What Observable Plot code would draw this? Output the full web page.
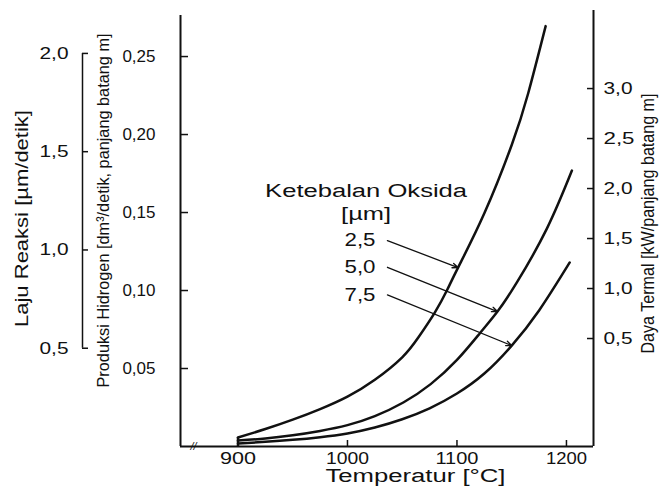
<!DOCTYPE html>
<html><head><meta charset="utf-8">
<script src="https://cdn.jsdelivr.net/npm/d3@7"></script>
<script src="https://cdn.jsdelivr.net/npm/@observablehq/plot@0.6"></script>
<style>body{margin:0;background:#fff}</style>
</head><body><div id="chart"></div>
<script>
// ---- data ----
const seriesNames = ["2,5", "5,0", "7,5"];
const temp25 = [900, 925, 950, 975, 1000, 1025, 1050, 1065, 1080, 1091, 1101, 1125, 1150, 1165, 1181];
const hyd25  = [0.0058, 0.0112, 0.0172, 0.024, 0.032, 0.0428, 0.0572, 0.0702, 0.0862, 0.1003, 0.1147, 0.1495, 0.1933, 0.2263, 0.2695];
const temp50 = [900, 925, 950, 975, 1000, 1025, 1051, 1076, 1100, 1121.5, 1137, 1155, 1182, 1205];
const hyd50  = [0.0038, 0.0051, 0.0072, 0.010, 0.0137, 0.0195, 0.0282, 0.040, 0.0555, 0.0731, 0.0865, 0.1055, 0.1395, 0.1769];
const temp75 = [900, 925, 950, 975, 1000, 1025, 1050, 1075, 1100, 1125, 1150, 1175, 1203];
const hyd75  = [0.0019, 0.003, 0.0043, 0.006, 0.0084, 0.0122, 0.0175, 0.0245, 0.034, 0.0468, 0.0647, 0.0872, 0.118];

const xDomain = [847.5, 1224.7];
const yDomain = [0, 0.2808];
const xTickValues = [1000, 1100, 1200];
const xLabelValues = [900, 1000, 1100, 1200];
const hydTicks = [0.05, 0.10, 0.15, 0.20, 0.25];
const lajuTicks = [0.5, 1.0, 1.5, 2.0];
const thermTicks = [0.5, 1.0, 1.5, 2.0, 2.5, 3.0];
const lajuToHyd = 0.126;              // Laju Reaksi -> hydrogen-scale position
const thermOffset = 0.03718, thermSlope = 0.0641; // Daya Termal -> hydrogen-scale position

const legendTitleTemp = 1017, legendTitleHyd = [0.1637, 0.1492];
const labelTemp = 1025.6;
const labelHyd = [0.132, 0.1149, 0.0972];
const arrowFromTemp = 1036.5;
const arrowToTemp = [1101, 1137, 1150];
const arrowToHyd = [0.1147, 0.0865, 0.0647];
const breakTemp = 859.4;

// ---- build tables ----
const curves = [];
[[temp25, hyd25], [temp50, hyd50], [temp75, hyd75]].forEach(([ts, hs], i) => {
  ts.forEach((t, j) => curves.push({series: seriesNames[i], t, h: hs[j]}));
});
const arrows = seriesNames.map((s, i) => ({s, fx: arrowFromTemp, fy: labelHyd[i], tx: arrowToTemp[i], ty: arrowToHyd[i], lx: labelTemp}));
const f1 = d => d.toFixed(1).replace(".", ",");
const f2 = d => d.toFixed(2).replace(".", ",");
const ink = "#111";

const chart = Plot.plot({
  width: 662, height: 487,
  marginLeft: 180, marginRight: 69, marginTop: 8, marginBottom: 41,
  style: {fontFamily: "Liberation Sans, Arial, Helvetica, sans-serif", fontSize: "17px", background: "#fff", color: ink},
  x: {type: "linear", domain: xDomain},
  y: {type: "linear", domain: yDomain},
  marks: [
    // frame lines
    Plot.ruleX([xDomain[0]], {y1: 0, y2: 0.2763, stroke: ink, strokeWidth: 2}),
    Plot.ruleX([xDomain[1]], {y1: 0, y2: 0.2795, stroke: ink, strokeWidth: 2}),
    Plot.ruleY([0], {x1: xDomain[0], x2: xDomain[1], stroke: ink, strokeWidth: 2}),
    Plot.text(["//"], {x: breakTemp, y: 0, text: d => d, fontSize: 11, fontStyle: "italic", fill: ink}),
    // left hydrogen axis
    Plot.axisY(hydTicks, {anchor: "left", tickSize: 8, dx: 8, fill: "none", stroke: ink, strokeWidth: 1.5, label: null}),
    Plot.axisY(hydTicks, {anchor: "left", tickSize: 0, tickPadding: 25, tickFormat: f2, fill: ink, fontSize: 17, label: null}),
    // Laju reaksi bracket axis
    Plot.ruleX([xDomain[0]], {y1: lajuTicks[0] * lajuToHyd, y2: lajuTicks[lajuTicks.length - 1] * lajuToHyd, dx: -98, stroke: ink, strokeWidth: 1.5}),
    Plot.axisY(lajuTicks.map(v => v * lajuToHyd), {anchor: "left", tickSize: 6, dx: -92, fill: "none", stroke: ink, strokeWidth: 1.5, label: null}),
    Plot.axisY(lajuTicks.map(v => v * lajuToHyd), {anchor: "left", tickSize: 0, tickPadding: 14, dx: -98, tickFormat: d => f1(d / lajuToHyd), fill: ink, fontSize: 17, label: null}),
    // right thermal axis
    Plot.axisY(thermTicks.map(p => thermOffset + thermSlope * p), {anchor: "right", tickSize: 7, dx: -7, fill: "none", stroke: ink, strokeWidth: 1.5, label: null}),
    Plot.axisY(thermTicks.map(p => thermOffset + thermSlope * p), {anchor: "right", tickSize: 0, tickPadding: 10, tickFormat: d => f1((d - thermOffset) / thermSlope), fill: ink, fontSize: 17, label: null}),
    // x axis
    Plot.axisX(xTickValues, {anchor: "bottom", tickSize: 6, dy: -6, fill: "none", stroke: ink, strokeWidth: 1.5, label: null}),
    Plot.axisX(xLabelValues, {anchor: "bottom", tickSize: 0, tickPadding: 5, tickFormat: d => String(d), fill: ink, fontSize: 17, label: null}),
    // axis titles
    Plot.text(["Laju Reaksi [µm/detik]"], {frameAnchor: "left", textAnchor: "middle", lineAnchor: "middle", dx: -158, dy: -9, rotate: -90, text: d => d, fontSize: 18, fill: ink}),
    Plot.text(["Produksi Hidrogen [dm³/detik, panjang batang m]"], {frameAnchor: "left", textAnchor: "middle", lineAnchor: "middle", dx: -77, dy: -17, rotate: -90, text: d => d, fontSize: 17, fill: ink}),
    Plot.text(["Daya Termal [kW/panjang batang m]"], {frameAnchor: "right", textAnchor: "middle", lineAnchor: "middle", dx: 55, dy: -4, rotate: -90, text: d => d, fontSize: 18, fill: ink}),
    Plot.text(["Temperatur [°C]"], {frameAnchor: "bottom", textAnchor: "middle", lineAnchor: "middle", dx: 28.5, dy: 30, text: d => d, fontSize: 18, fill: ink}),
    // curves
    Plot.ruleX([temp25[0]], {y1: 0, y2: hyd25[0], stroke: ink, strokeWidth: 2.5}),
    Plot.line(curves, {x: "t", y: "h", z: "series", curve: "natural", stroke: ink, strokeWidth: 2.5}),
    // legend annotation
    Plot.text(["Ketebalan Oksida"], {x: legendTitleTemp, y: legendTitleHyd[0], text: d => d, textAnchor: "middle", fontSize: 18, fill: ink}),
    Plot.text(["[µm]"], {x: legendTitleTemp, y: legendTitleHyd[1], text: d => d, textAnchor: "middle", fontSize: 18, fill: ink}),
    Plot.text(arrows, {x: "lx", y: "fy", text: "s", textAnchor: "end", fontSize: 18, fill: ink}),
    Plot.arrow(arrows, {x1: "fx", y1: "fy", x2: "tx", y2: "ty", stroke: ink, strokeWidth: 1.3, headLength: 7, headAngle: 45})
  ]
});
document.getElementById("chart").append(chart);

// stretch texts to the widths seen in the (horizontally stretched) scan
const lengths = {
  "Laju Reaksi [µm/detik]": 217,
  "Produksi Hidrogen [dm³/detik, panjang batang m]": 354,
  "Daya Termal [kW/panjang batang m]": 260,
  "Temperatur [°C]": 180,
  "Ketebalan Oksida": 202,
  "[µm]": 50,
  "2,5": 31, "5,0": 31, "7,5": 31, "3,0": 29, "2,0": 29, "1,5": 29, "1,0": 29, "0,5": 29,
  "900": 36, "1000": 43, "1100": 43, "1200": 41
};
chart.querySelectorAll("text").forEach(t => {
  const len = lengths[t.textContent];
  if (len) {
    t.setAttribute("textLength", len);
    t.setAttribute("lengthAdjust", "spacingAndGlyphs");
  }
});
</script>
</body></html>
